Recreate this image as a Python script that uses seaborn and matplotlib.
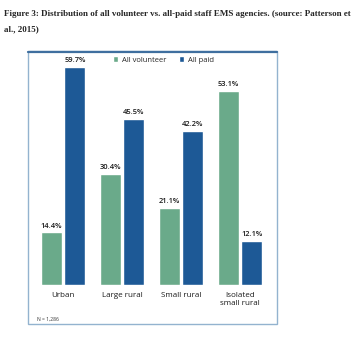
import matplotlib
matplotlib.use("Agg")
import matplotlib.pyplot as plt
import seaborn as sns
import pandas as pd
from matplotlib.patches import Rectangle, Patch

categories = ["Urban", "Large rural", "Small rural", "Isolated\nsmall rural"]
volunteer = [14.4, 30.4, 21.1, 53.1]
paid = [59.7, 45.5, 42.2, 12.1]
series = ["All volunteer", "All paid"]
colors = ["#6aaa8a", "#1d5996"]

df = pd.DataFrame({
    "category": categories * 2,
    "value": volunteer + paid,
    "series": [series[0]] * 4 + [series[1]] * 4,
})

sns.set_style("white")
W, H = 354, 337
fig = plt.figure(figsize=(W / 100, H / 100), dpi=100)
fig.patch.set_facecolor("white")

def fx(px):
    return px / W

def fy(py):
    return 1 - py / H

# caption
fig.text(fx(4), fy(14), "Figure 3: Distribution of all volunteer vs. all-paid staff EMS agencies. (source: Patterson et",
         fontsize=6.5, fontweight="bold", family="Liberation Serif", va="center", ha="left")
fig.text(fx(4), fy(29), "al., 2015)", fontsize=6.5, fontweight="bold",
         family="Liberation Serif", va="center", ha="left")

# frame box
box = Rectangle((fx(28), fy(324)), fx(277) - fx(28), fy(51) - fy(324), transform=fig.transFigure,
                fill=False, edgecolor="#93b3cf", linewidth=1.0)
fig.patches.append(box)
fig.add_artist(plt.Line2D([fx(28), fx(277)], [fy(51.5), fy(51.5)], transform=fig.transFigure,
                          color="#3f6f9f", linewidth=1.6))

# axes
bottom_px, top_px = 285, 60
ax = fig.add_axes([fx(33.5), fy(bottom_px), fx(236), (bottom_px - top_px) / H])
sns.barplot(data=df, x="category", y="value", hue="series", palette=colors,
            width=0.8, gap=0.12, ax=ax, legend=False, saturation=1)
ax.set_xlim(-0.5, 3.5)
ax.set_ylim(0, (bottom_px - top_px) / 3.65)
for c in ax.containers:
    ax.bar_label(c, labels=[f"{v:.1f}%" for v in c.datavalues], padding=2,
                 fontsize=5.4, color="#1a1a1a", family="Open Sans", fontweight="semibold")
ax.set_xlabel("")
ax.set_ylabel("")
ax.set_yticks([])
ax.tick_params(axis="x", length=0, pad=5, labelsize=5.8, labelcolor="#1a1a1a")
for t in ax.get_xticklabels():
    t.set_family("Open Sans")
for s in ax.spines.values():
    s.set_visible(False)
ax.patch.set_alpha(0)

handles = [Patch(facecolor=colors[0]), Patch(facecolor=colors[1])]
fig.legend(handles, series, loc="center left", bbox_to_anchor=(fx(106), fy(60)),
           ncol=2, frameon=False, handlelength=0.7, handleheight=0.7,
           handletextpad=0.5, columnspacing=1.6, prop={"family": "Open Sans", "size": 5.5})

fig.text(fx(37), fy(319), "N = 1,286", fontsize=3.6, family="Open Sans", color="#333333",
         va="center", ha="left")

fig.savefig("out.png", dpi=100)
